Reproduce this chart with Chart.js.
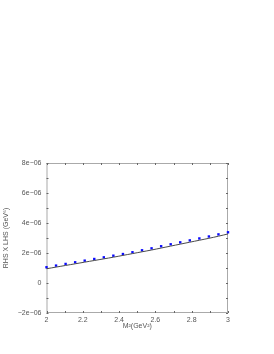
<!DOCTYPE html>
<html>
<head>
<meta charset="utf-8">
<script src="https://cdn.jsdelivr.net/npm/chart.js@4/dist/chart.umd.min.js"></script>
<style>
  html, body { margin: 0; padding: 0; background: #fff; }
  canvas { display: block; }
</style>
</head>
<body>
<canvas id="c" width="274" height="354"></canvas>
<script>
// M^2 values (GeV^2), 20 points from 2 to 3
const m2 = [2.0, 2.0526, 2.1053, 2.1579, 2.2105, 2.2632, 2.3158, 2.3684, 2.4211, 2.4737,
            2.5263, 2.5789, 2.6316, 2.6842, 2.7368, 2.7895, 2.8421, 2.8947, 2.9474, 3.0];
// blue points (RHS X LHS)
const pts = [1.05e-6, 1.16e-6, 1.27e-6, 1.38e-6, 1.49e-6, 1.60e-6, 1.71e-6, 1.82e-6, 1.93e-6, 2.05e-6,
             2.18e-6, 2.31e-6, 2.45e-6, 2.58e-6, 2.71e-6, 2.84e-6, 2.97e-6, 3.10e-6, 3.24e-6, 3.38e-6];
// gray line
const fit = [0.95e-6, 1.06e-6, 1.17e-6, 1.28e-6, 1.39e-6, 1.50e-6, 1.61e-6, 1.72e-6, 1.84e-6, 1.96e-6,
             2.08e-6, 2.20e-6, 2.33e-6, 2.46e-6, 2.59e-6, 2.72e-6, 2.85e-6, 2.98e-6, 3.12e-6, 3.27e-6];

const xLabels = {20: "2", 22: "2.2", 24: "2.4", 26: "2.6", 28: "2.8", 30: "3"};
const yLabels = {"-2": "\u22122e\u221206", "0": "0", "2": "2e\u221206", "4": "4e\u221206", "6": "6e\u221206", "8": "8e\u221206"};
const xTitle = "M\u00b2(GeV\u00b2)";

const frameColor = "#aaa";
const txt = "#555";

// box, inward ticks on all four sides, x title
const frame = {
  id: "frame",
  beforeDatasetsDraw(chart) {
    const { ctx, chartArea: a, scales: { x, y } } = chart;
    ctx.save();
    ctx.strokeStyle = frameColor;
    ctx.lineWidth = 1;
    ctx.strokeRect(a.left + 0.5, a.top + 0.5, a.right - a.left - 1, a.bottom - a.top - 1);
    ctx.strokeStyle = "#666";
    ctx.beginPath();
    x.ticks.forEach(t => {
      const px = Math.round(x.getPixelForValue(t.value)) + 0.5;
      ctx.moveTo(px, a.bottom); ctx.lineTo(px, a.bottom - 2);
      ctx.moveTo(px, a.top); ctx.lineTo(px, a.top + 2);
    });
    y.ticks.forEach(t => {
      const py = Math.round(y.getPixelForValue(t.value)) + 0.5;
      ctx.moveTo(a.left, py); ctx.lineTo(a.left + 2, py);
      ctx.moveTo(a.right, py); ctx.lineTo(a.right - 2, py);
    });
    ctx.stroke();
    ctx.fillStyle = txt;
    ctx.font = "7px 'Liberation Sans'";
    ctx.textAlign = "center";
    ctx.textBaseline = "middle";
    ctx.fillText(xTitle, (a.left + a.right) / 2, a.bottom + 13);
    ctx.restore();
  }
};

new Chart(document.getElementById("c"), {
  type: "scatter",
  data: {
    datasets: [
      {
        type: "line",
        data: m2.map((v, i) => ({ x: v, y: fit[i] })),
        borderColor: "#4a4a4a",
        borderWidth: 1,
        pointRadius: 0,
        tension: 0.3,
        fill: false
      },
      {
        data: m2.map((v, i) => ({ x: v, y: pts[i] })),
        backgroundColor: "#0a0aff",
        borderColor: "#0a0aff",
        pointStyle: "rect",
        pointRadius: 1.7,
        borderWidth: 0,
        clip: false
      }
    ]
  },
  options: {
    responsive: false,
    animation: false,
    layout: { padding: { top: 163, right: 46, left: 0, bottom: 20 } },
    plugins: { legend: { display: false }, tooltip: { enabled: false } },
    scales: {
      x: {
        type: "linear",
        min: 2, max: 3,
        grid: { display: false, drawTicks: false, tickLength: 0 },
        border: { display: false },
        afterFit(s) { s.height = 21; },
        ticks: {
          stepSize: 0.1,
          autoSkip: false,
          maxRotation: 0,
          padding: 3,
          color: txt,
          font: { family: "Liberation Sans", size: 7 },
          callback: v => xLabels[Math.round(v * 10)] || ""
        }
      },
      y: {
        min: -2e-6, max: 8e-6,
        grid: { display: false, drawTicks: false, tickLength: 0 },
        border: { display: false },
        afterFit(s) { s.width = 46.5; },
        ticks: {
          stepSize: 1e-6,
          autoSkip: false,
          padding: 5,
          color: txt,
          font: { family: "Liberation Sans", size: 7 },
          callback: v => yLabels[String(Math.round(v * 1e6))] || ""
        },
        title: {
          display: true,
          text: "RHS X LHS (GeV\u2076)",
          color: txt,
          font: { family: "Liberation Sans", size: 7 },
          padding: { top: 2, bottom: 0 }
        }
      }
    }
  },
  plugins: [frame]
});
</script>
</body>
</html>
